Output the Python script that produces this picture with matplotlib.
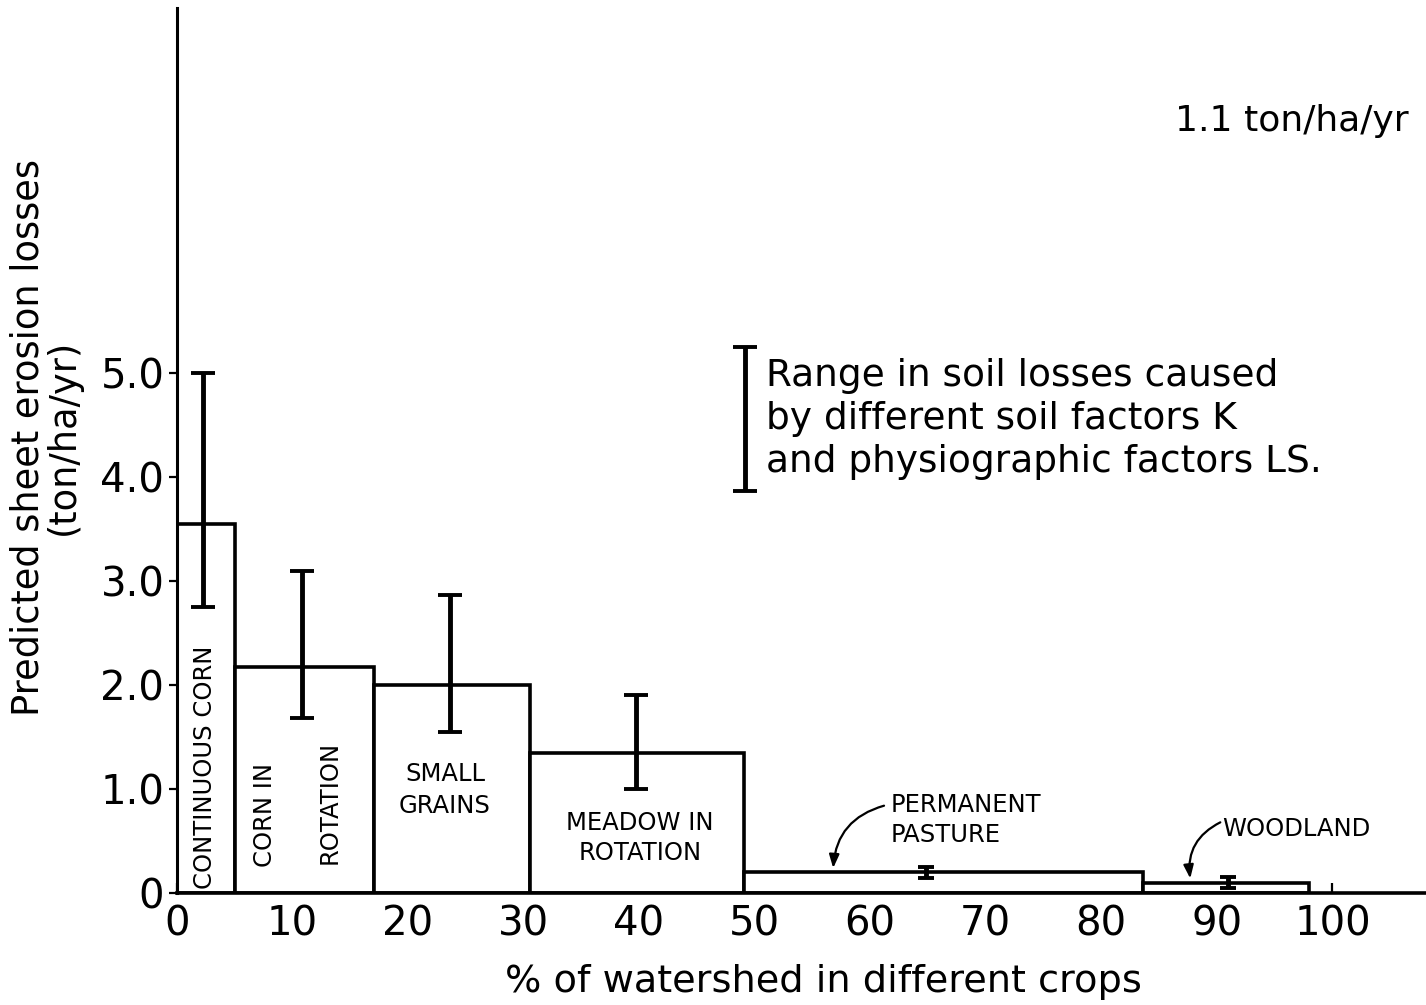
import matplotlib.pyplot as plt

plt.rcParams['font.family'] = ['DejaVu Sans']

# crop blocks: edges along the x axis (% of watershed) and predicted loss
edges = [0, 5.0, 17.1, 30.6, 49.1, 83.6, 98.0]
losses = [3.55, 2.17, 2.0, 1.35, 0.2, 0.1]
# range in soil losses for each crop (low, high) and where the bar sits
err_x = [2.3, 10.8, 23.6, 39.7, 64.8, 91.0]
err_lo = [2.75, 1.68, 1.55, 1.0, 0.14, 0.05]
err_hi = [5.0, 3.1, 2.87, 1.9, 0.25, 0.15]

fig = plt.figure(figsize=(14.26, 10.05), dpi=100)
ax = fig.add_axes([0.124, 0.1114, 0.876, 0.8806])

lefts = edges[:-1]
widths = [edges[i + 1] - edges[i] for i in range(len(losses))]
ax.bar(lefts, losses, width=widths, align='edge', color='white',
       edgecolor='black', linewidth=2.6, zorder=2)

# error bars, caps drawn narrower for the two small ones
for i in range(len(err_x)):
    mid = (err_lo[i] + err_hi[i]) / 2
    half = (err_hi[i] - err_lo[i]) / 2
    cap = 8.5 if i < 4 else 5.5
    ax.errorbar(err_x[i], mid, yerr=half, fmt='none', ecolor='black',
                elinewidth=3.5, capsize=cap, capthick=2.8, zorder=3)

# key bar
ax.errorbar(49.2, 4.56, yerr=0.69, fmt='none', ecolor='black',
            elinewidth=3.5, capsize=8.5, capthick=2.8, zorder=3)
ax.text(51.0, 4.56, 'Range in soil losses caused\nby different soil factors K\n'
        'and physiographic factors LS.', fontsize=27, va='center',
        ha='left', linespacing=1.25)

fig.text(0.988, 0.88, '1.1 ton/ha/yr', fontsize=26, ha='right', va='center')

# block labels
ax.text(2.4, 0.04, 'CONTINUOUS CORN', rotation=90, fontsize=17.5,
        ha='center', va='bottom')
ax.text(7.6, 0.75, 'CORN IN', rotation=90, fontsize=17.5, ha='center', va='center')
ax.text(13.2, 0.87, 'ROTATION', rotation=90, fontsize=17.5, ha='center', va='center')
ax.text(23.2, 0.99, 'SMALL\nGRAINS', fontsize=17.5, ha='center', va='center',
        linespacing=1.45)
ax.text(40.1, 0.53, 'MEADOW IN\nROTATION', fontsize=17.5, ha='center',
        va='center', linespacing=1.3)
ax.text(61.8, 0.70, 'PERMANENT\nPASTURE', fontsize=17.5, ha='left',
        va='center', linespacing=1.3)
ax.text(90.5, 0.62, 'WOODLAND', fontsize=17.5, ha='left', va='center')

arrow = dict(arrowstyle='-|>,head_length=0.8,head_width=0.3', color='black',
             lw=1.6, connectionstyle='arc3,rad=0.35', shrinkA=0, shrinkB=0)
ax.annotate('', xy=(56.8, 0.24), xytext=(61.2, 0.84), arrowprops=arrow)
ax.annotate('', xy=(87.7, 0.14), xytext=(90.3, 0.68), arrowprops=arrow)

ax.set_xlim(0, 108.1)
ax.set_ylim(0, 8.51)
ax.set_xticks(range(0, 101, 10))
ax.set_yticks([0, 1, 2, 3, 4, 5])
ax.set_yticklabels(['0', '1.0', '2.0', '3.0', '4.0', '5.0'])
ax.tick_params(axis='x', direction='in', length=7, width=1.6, labelsize=29, pad=8)
ax.tick_params(axis='y', direction='out', length=6, width=1.6, labelsize=29, pad=3)

for side in ['top', 'right']:
    ax.spines[side].set_visible(False)
ax.spines['left'].set_linewidth(2.2)
ax.spines['bottom'].set_linewidth(2.6)

ax.set_xlabel('% of watershed in different crops', fontsize=27.5)
ax.xaxis.set_label_coords(0.518, -0.08)
ax.set_ylabel('Predicted sheet erosion losses\n(ton/ha/yr)', fontsize=26.5,
              linespacing=0.95)
ax.yaxis.set_label_coords(-0.076, 0.515)

fig.savefig('out.png', dpi=100)
